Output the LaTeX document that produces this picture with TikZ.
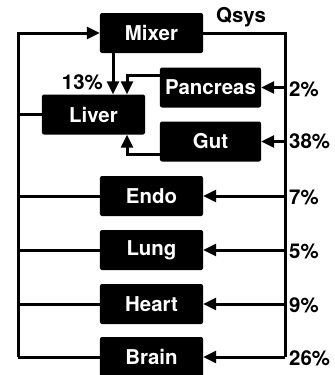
\documentclass[tikz,border=0pt]{standalone}
\usepackage{fontspec}
\setmainfont{TeX Gyre Heros}
\usetikzlibrary{arrows.meta}

\tikzset{
  organ/.style={fill=black, text=white, rounded corners=2bp, minimum width=103bp,
    minimum height=40bp, inner sep=0pt, font=\bfseries\fontsize{20.5}{24}\selectfont},
  wire/.style={line width=3bp},
  flow/.style={wire, -{Triangle[length=13bp,width=12bp]}},
  pct/.style={anchor=west, inner sep=0pt, font=\bfseries\fontsize{20.5}{24}\selectfont}
}

\begin{document}
\begin{tikzpicture}[x=1bp,y=-1bp]
	  \useasboundingbox (0,0) rectangle (335,375);

	  \node[organ] (mixer) at (151.5,33) {Mixer};
	  \node[organ] (liver) at (93.5,114.5) {Liver};
	  \node[organ, minimum width=101bp] (pancreas) at (210.5,87.5) {Pancreas};
	  \node[organ, minimum width=101bp] (gut) at (210.5,141.5) {Gut};

	  \coordinate (ltop) at (18,33);
	  \coordinate (rtop) at (285,33);
	  \coordinate (mixdrop) at (113,0);
	  \coordinate (pandrop) at (127,0);

	  % systemic loop
	  \foreach \o/\y/\t/\p in {endo/196/Endo/7\%, lung/250/Lung/5\%, heart/304/Heart/9\%, brain/357/Brain/26\%}{
	    \node[organ] (\o) at (151.5,\y) {\t};
	    \draw[flow] (rtop |- \o.east) -- (\o.east);
	    \draw[wire] (\o.west) -- (ltop |- \o.west);
	    \node[pct] at ([xshift=4bp,yshift=-1bp]rtop |- \o.east) {\p};
	  }

	  \draw[wire] (mixer.east) -- (rtop) -- (rtop |- brain.east);
	  \draw[flow] (ltop |- brain.west) -- (ltop) -- (mixer.west);
	  \draw[wire] (liver.west) -- (ltop |- liver.west);

	  \draw[flow] (rtop |- pancreas.east) -- (pancreas.east);
	  \draw[flow] (rtop |- gut.east) -- (gut.east);
	  \node[pct] at ([xshift=4bp,yshift=-2bp]rtop |- pancreas.east) {2\%};
	  \node[pct] at ([xshift=4bp]rtop |- gut.east) {38\%};

	  % into the liver
	  \draw[flow] (mixdrop |- mixer.south) -- (mixdrop |- liver.north);
	  \draw[flow] ([yshift=-8bp]pancreas.north west) -| (pandrop |- liver.north);
	  \draw[flow] ([yshift=7bp]gut.south west) -| (pandrop |- liver.south);

	  \node[pct, anchor=east] at (103,82) {13\%};
	  \node[pct] at (216,17) {Qsys};

\end{tikzpicture}
\end{document}
